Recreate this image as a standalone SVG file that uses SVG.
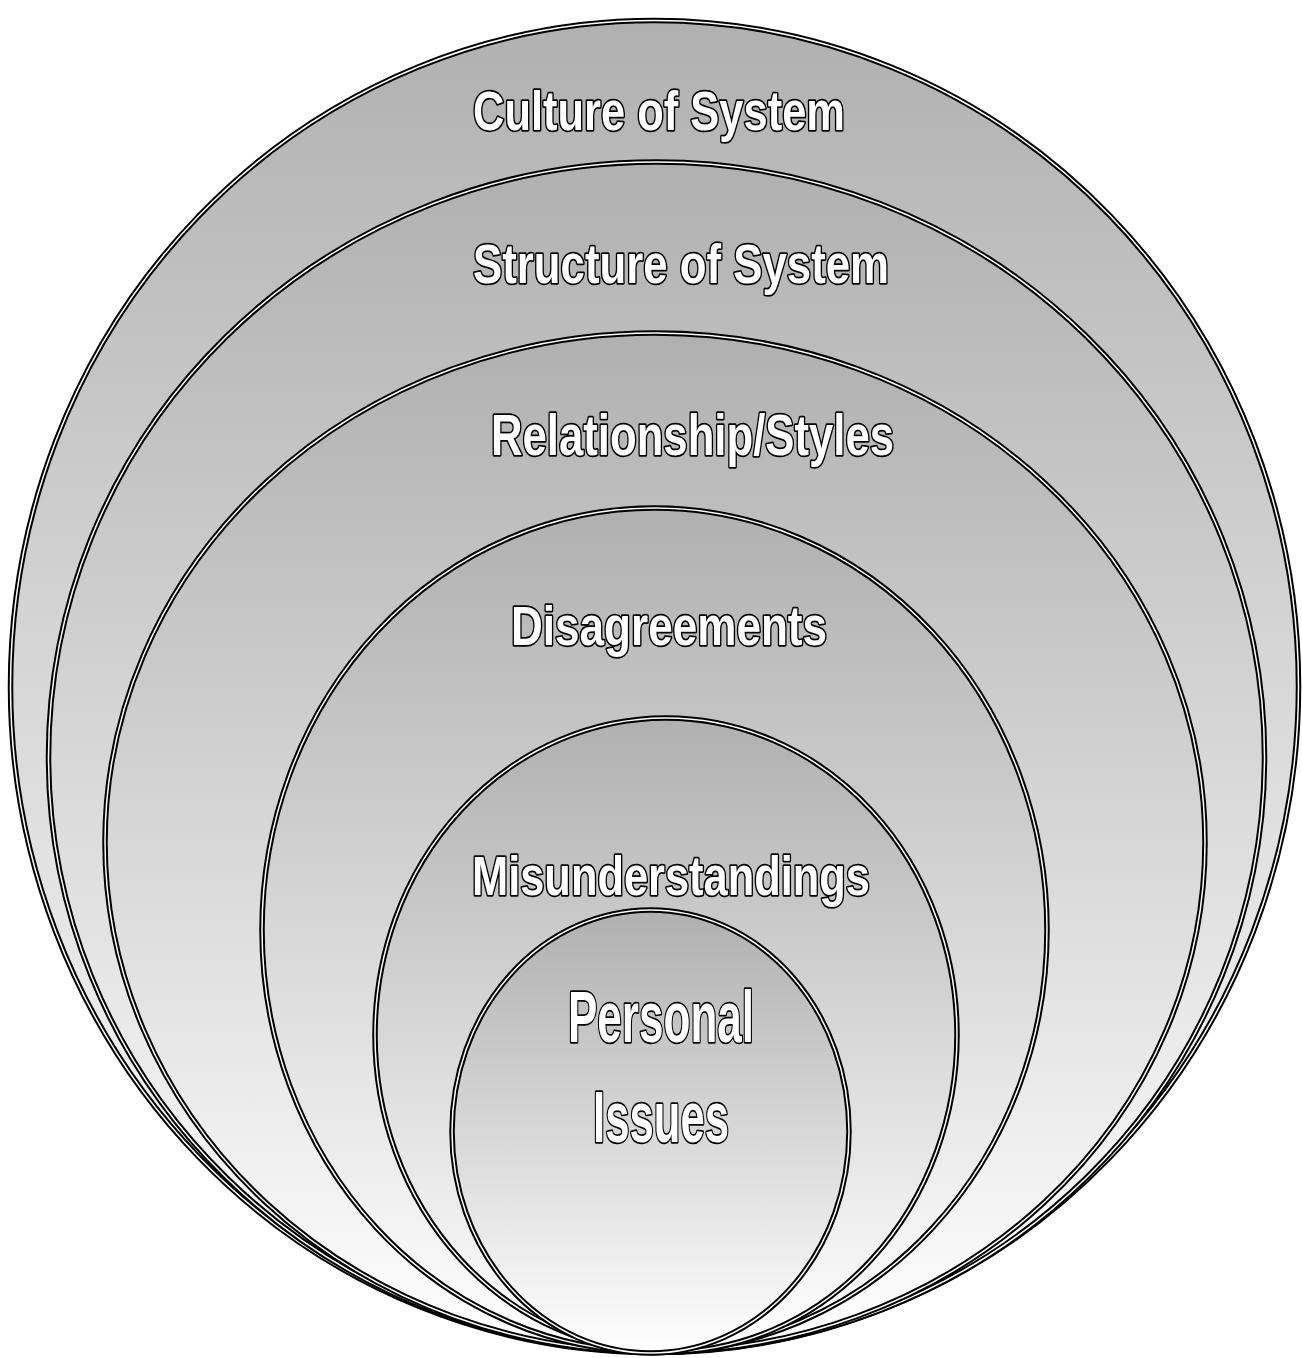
<svg xmlns="http://www.w3.org/2000/svg" width="1302" height="1358" viewBox="0 0 1302 1358">
<defs>
<linearGradient id="g" x1="0" y1="0" x2="0" y2="1">
<stop offset="0" stop-color="#b0b0b0"/>
<stop offset="1" stop-color="#ffffff"/>
</linearGradient>
</defs>
<style>
.o{fill:url(#g);stroke:#000;stroke-width:5.5}
.i{fill:none;stroke:#fff;stroke-width:1.5}
.t{font-family:"Liberation Sans",Arial,sans-serif;font-weight:bold;fill:#fff;stroke:#000;stroke-width:3.5;paint-order:stroke fill;stroke-linejoin:round;text-anchor:middle}
</style>
<rect width="1302" height="1358" fill="#fff"/>
<g id="culture">
<ellipse class="o" cx="654.5" cy="686.5" rx="644" ry="666"/>
<ellipse class="i" cx="654.5" cy="686.5" rx="644" ry="666"/>
<text class="t" x="659" y="130" font-size="55" textLength="372" lengthAdjust="spacingAndGlyphs">Culture of System</text>
</g>
<g id="structure">
<ellipse class="o" cx="656.5" cy="757" rx="608" ry="595"/>
<ellipse class="i" cx="656.5" cy="757" rx="608" ry="595"/>
<text class="t" x="681" y="283" font-size="56" textLength="416" lengthAdjust="spacingAndGlyphs">Structure of System</text>
</g>
<g id="relationship">
<ellipse class="o" cx="655" cy="842.5" rx="550" ry="509.5"/>
<ellipse class="i" cx="655" cy="842.5" rx="550" ry="509.5"/>
<text class="t" x="692.5" y="455" font-size="57" textLength="403" lengthAdjust="spacingAndGlyphs">Relationship/Styles</text>
</g>
<g id="disagreements">
<ellipse class="o" cx="654.5" cy="930" rx="392.5" ry="422"/>
<ellipse class="i" cx="654.5" cy="930" rx="392.5" ry="422"/>
<text class="t" x="669" y="645" font-size="56" textLength="316" lengthAdjust="spacingAndGlyphs">Disagreements</text>
</g>
<g id="misunderstandings">
<ellipse class="o" cx="666" cy="1035" rx="291" ry="317"/>
<ellipse class="i" cx="666" cy="1035" rx="291" ry="317"/>
<text class="t" x="671" y="895" font-size="56" textLength="398" lengthAdjust="spacingAndGlyphs">Misunderstandings</text>
</g>
<g id="personal">
<ellipse class="o" cx="650.5" cy="1131.5" rx="198.5" ry="221.5"/>
<ellipse class="i" cx="650.5" cy="1131.5" rx="198.5" ry="221.5"/>
<text class="t" x="661" y="1042" font-size="72" textLength="186" lengthAdjust="spacingAndGlyphs">Personal</text>
<text class="t" x="661" y="1142" font-size="72" textLength="136" lengthAdjust="spacingAndGlyphs">Issues</text>
</g>
<g id="connectors"/>
</svg>
